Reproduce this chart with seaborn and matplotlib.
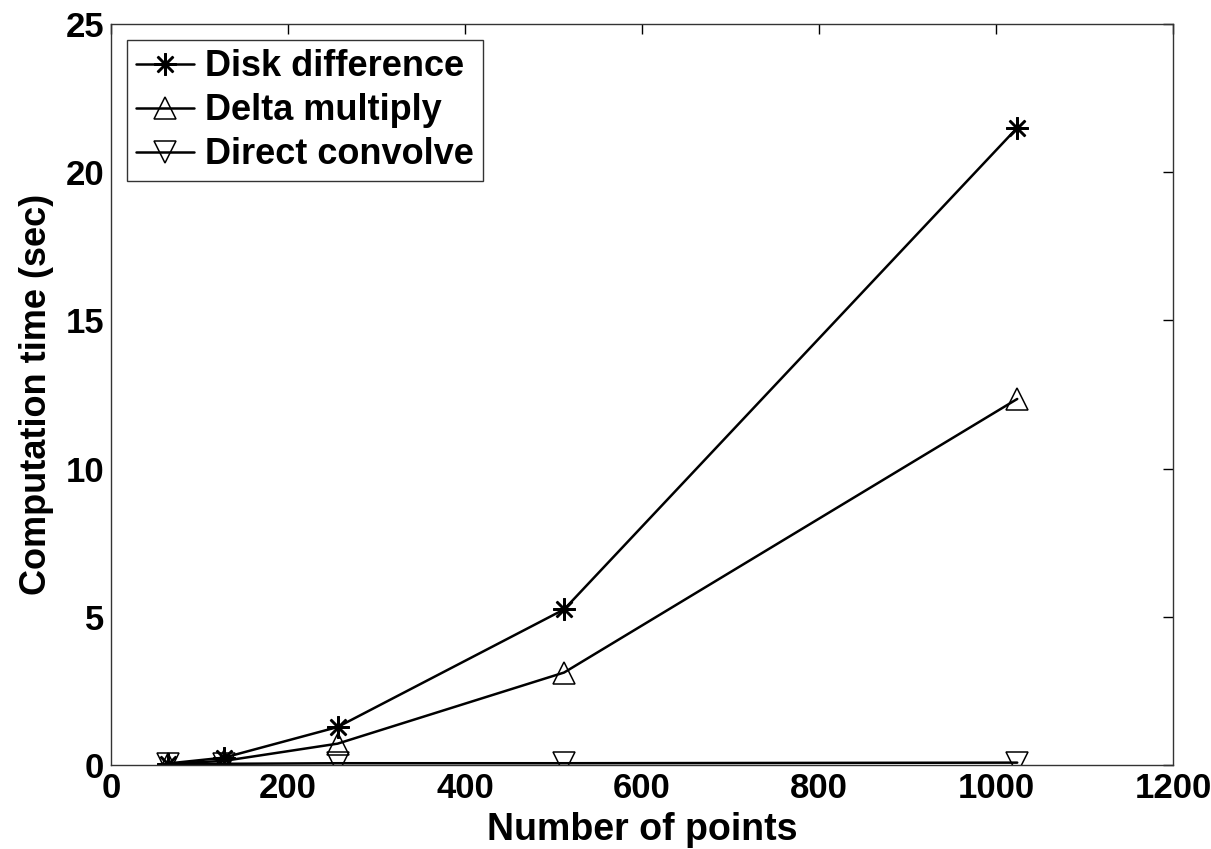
import matplotlib
matplotlib.use("Agg")
import matplotlib.pyplot as plt
import seaborn as sns
import pandas as pd

n_points = [64, 128, 256, 512, 1024]
disk_difference = [0.05, 0.25, 1.28, 5.25, 21.5]
delta_multiply = [0.04, 0.14, 0.72, 3.12, 12.35]
direct_convolve = [0.03, 0.04, 0.06, 0.06, 0.08]
series_names = ["Disk difference", "Delta multiply", "Direct convolve"]

sns.set_theme(style="white")
plt.rcParams['font.family'] = ['Liberation Sans', 'DejaVu Sans']
plt.rcParams['font.weight'] = 'bold'
plt.rcParams['text.color'] = 'black'
plt.rcParams['axes.labelcolor'] = 'black'
plt.rcParams['xtick.color'] = 'black'
plt.rcParams['ytick.color'] = 'black'

df = pd.DataFrame({
    "n": n_points * 3,
    "t": disk_difference + delta_multiply + direct_convolve,
    "series": sum([[s] * len(n_points) for s in series_names], []),
})

fig = plt.figure(figsize=(12.11, 8.49), dpi=100)
ax = fig.add_axes([111/1211, 1 - 765/849, (1173-111)/1211, (765-24)/849])

asterisk = (8, 2, 0)
markers = {"Disk difference": asterisk, "Delta multiply": "^", "Direct convolve": "v"}
for s in series_names:
    sub = df[df.series == s]
    sns.lineplot(data=sub, x="n", y="t", ax=ax, color="black", linewidth=1.8,
                 marker=markers[s], markersize=16,
                 markerfacecolor="none" if s != "Disk difference" else "black",
                 markeredgecolor="black", markeredgewidth=1.8 if s == "Disk difference" else 1.1,
                 label=s)

ax.set_xlim(0, 1200)
ax.set_ylim(0, 25)
ax.set_xticks(range(0, 1201, 200))
ax.set_yticks(range(0, 26, 5))
ax.tick_params(direction="in", length=7, width=1, top=True, right=True,
               labelsize=25, pad=5, colors="black")
for lab in ax.get_xticklabels() + ax.get_yticklabels():
    lab.set_fontweight("bold")
for sp in ax.spines.values():
    sp.set_color("#333333")
    sp.set_linewidth(1)
ax.set_xlabel("Number of points", fontsize=27, fontweight="bold")
ax.xaxis.set_label_coords(0.5, -0.063)
ax.set_ylabel("Computation time (sec)", fontsize=26, fontweight="bold", labelpad=8)

leg = ax.legend(loc="upper left", fontsize=26, frameon=True, fancybox=False,
                edgecolor="black", handlelength=1.6, handletextpad=0.3,
                borderaxespad=0.45, labelspacing=0.25, borderpad=0.25)
leg.get_frame().set_linewidth(1)
for t in leg.get_texts():
    t.set_fontweight("bold")

fig.savefig("out.png", dpi=100, facecolor="white")
